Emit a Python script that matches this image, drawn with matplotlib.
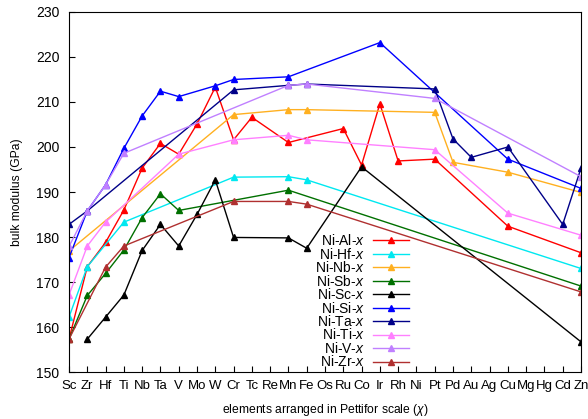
import numpy as np
import matplotlib
matplotlib.use("Agg")
import matplotlib.pyplot as plt

plt.rcParams['font.family'] = ['Liberation Sans', 'DejaVu Sans']
plt.rcParams['mathtext.fontset'] = 'custom'
plt.rcParams['mathtext.it'] = 'Liberation Sans:italic'
plt.rcParams['mathtext.rm'] = 'Liberation Sans'

elements = ['Sc', 'Zr', 'Hf', 'Ti', 'Nb', 'Ta', 'V', 'Mo', 'W', 'Cr', 'Tc', 'Re', 'Mn', 'Fe',
            'Os', 'Ru', 'Co', 'Ir', 'Rh', 'Ni', 'Pt', 'Pd', 'Au', 'Ag', 'Cu', 'Mg', 'Hg', 'Cd', 'Zn']

# bulk modulus (GPa) per alloying element x
ni_al = {'Sc': 157.3, 'Zr': 173.4, 'Hf': 178.8, 'Ti': 186.0, 'Nb': 195.3, 'Ta': 200.8, 'V': 198.4,
         'Mo': 205.1, 'W': 213.3, 'Cr': 201.6, 'Tc': 206.6, 'Mn': 201.0, 'Ru': 204.1, 'Co': 196.0,
         'Ir': 209.6, 'Rh': 196.9, 'Pt': 197.3, 'Cu': 182.4, 'Zn': 176.5}
ni_hf = {'Sc': 162.2, 'Zr': 173.4, 'Ti': 183.3, 'Cr': 193.3, 'Mn': 193.4, 'Fe': 192.7, 'Zn': 173.0}
ni_nb = {'Sc': 176.9, 'Cr': 207.2, 'Mn': 208.3, 'Fe': 208.3, 'Pt': 207.7, 'Pd': 196.6, 'Cu': 194.4,
         'Zn': 189.9}
ni_sb = {'Sc': 157.3, 'Zr': 167.0, 'Hf': 171.9, 'Ti': 177.1, 'Nb': 184.3, 'Ta': 189.6, 'V': 185.9,
         'Mn': 190.4, 'Zn': 169.1}
ni_sc = {'Zr': 157.3, 'Hf': 162.2, 'Ti': 167.1, 'Nb': 177.0, 'Ta': 182.8, 'V': 178.0, 'Mo': 185.0,
         'W': 192.7, 'Cr': 179.9, 'Mn': 179.8, 'Fe': 177.5, 'Co': 195.6, 'Zn': 156.7}
ni_si = {'Sc': 175.4, 'Zr': 185.8, 'Hf': 191.6, 'Ti': 199.7, 'Nb': 206.9, 'Ta': 212.4, 'V': 211.2,
         'W': 213.6, 'Cr': 215.0, 'Mn': 215.6, 'Ir': 223.2, 'Cu': 197.3, 'Zn': 190.8}
ni_ta = {'Sc': 182.8, 'Zr': 185.8, 'Cr': 212.7, 'Mn': 213.7, 'Fe': 214.0, 'Pt': 212.9, 'Pd': 201.8,
         'Au': 197.7, 'Cu': 200.0, 'Cd': 182.8, 'Zn': 195.3}
ni_ti = {'Sc': 167.1, 'Zr': 178.0, 'Hf': 183.3, 'V': 198.4, 'Cr': 201.6, 'Mn': 202.6, 'Fe': 201.6,
         'Pt': 199.4, 'Cu': 185.3, 'Zn': 180.4}
ni_v = {'Sc': 177.9, 'Zr': 185.8, 'Hf': 191.6, 'Ti': 198.6, 'Mn': 213.7, 'Fe': 214.0, 'Pt': 210.8,
        'Zn': 193.4}
ni_zr = {'Sc': 157.3, 'Hf': 173.3, 'Ti': 178.0, 'Cr': 187.9, 'Mn': 187.9, 'Fe': 187.3, 'Zn': 167.8}

series = [
    ('Ni-Al-$x$', ni_al, '#ff0000'),
    ('Ni-Hf-$x$', ni_hf, '#00e8f0'),
    ('Ni-Nb-$x$', ni_nb, '#ffb020'),
    ('Ni-Sb-$x$', ni_sb, '#007000'),
    ('Ni-Sc-$x$', ni_sc, '#000000'),
    ('Ni-Si-$x$', ni_si, '#0000ff'),
    ('Ni-Ta-$x$', ni_ta, '#000088'),
    ('Ni-Ti-$x$', ni_ti, '#ff80ff'),
    ('Ni-V-$x$', ni_v, '#c080ff'),
    ('Ni-Zr-$x$', ni_zr, '#b03030'),
]

fig = plt.figure(figsize=(5.88, 4.19), dpi=100)
ax = fig.add_axes([69/588., 47/419., 512/588., 360/419.])

for label, data, col in series:
    xs = [elements.index(e) for e in elements if e in data]
    ys = [data[e] for e in elements if e in data]
    ax.plot(xs, ys, color=col, lw=1.0, marker='^', ms=4, label=label)

ax.set_xlim(0, len(elements)-1)
ax.set_ylim(150, 230)
ax.set_xticks(range(len(elements)))
ax.set_xticklabels(elements, fontsize=9.5)
ax.set_yticks(range(150, 231, 10))
ax.tick_params(axis='both', direction='in', length=4.5, labelsize=10, top=False, right=False)
ax.tick_params(axis='x', pad=6, labelsize=9.5)
ax.tick_params(axis='y', pad=7)
ax.set_xlabel('elements arranged in Pettifor scale ($\\chi$)', fontsize=8.7, labelpad=7)
ax.set_ylabel('bulk modulus (GPa)', fontsize=8.7, labelpad=9)

ax.legend(loc='upper right', bbox_to_anchor=(0.678, 0.405), frameon=False, markerfirst=False,
          fontsize=10, handlelength=2.6, labelspacing=-0.11, borderpad=0, handletextpad=0.6)

fig.savefig('out.png', dpi=100)
